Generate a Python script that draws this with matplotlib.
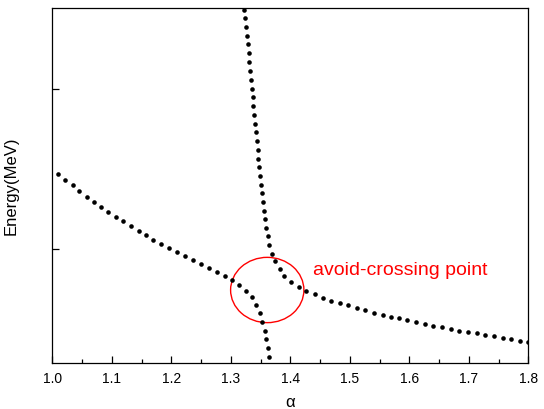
import matplotlib

matplotlib.use("Agg")
import matplotlib.pyplot as plt
from matplotlib.patches import Ellipse

plt.rcParams["font.family"] = ["Liberation Sans", "DejaVu Sans"]

# lower branch: falls gently, then drops steeply after the crossing
alpha_low = [1.010, 1.022, 1.034, 1.045, 1.058, 1.070, 1.082, 1.094, 1.107, 1.119,
             1.132, 1.145, 1.157, 1.170, 1.183, 1.197, 1.210, 1.223, 1.236, 1.250,
             1.264, 1.277, 1.290, 1.302, 1.314, 1.326, 1.336, 1.343, 1.349, 1.353,
             1.357, 1.360, 1.363, 1.365]
energy_low = [1.471, 1.432, 1.399, 1.361, 1.328, 1.295, 1.263, 1.232, 1.203, 1.174,
              1.143, 1.116, 1.087, 1.060, 1.035, 1.008, 0.983, 0.958, 0.935, 0.911,
              0.885, 0.857, 0.836, 0.809, 0.780, 0.742, 0.701, 0.655, 0.601, 0.547,
              0.493, 0.440, 0.385, 0.331]

# upper branch: steep descent, then bends to the right
alpha_up = [1.322, 1.324, 1.326, 1.327, 1.329, 1.330, 1.331, 1.333, 1.334, 1.335,
            1.337, 1.338, 1.339, 1.341, 1.342, 1.344, 1.345, 1.346, 1.347, 1.349,
            1.351, 1.352, 1.354, 1.356, 1.358, 1.360, 1.362, 1.364, 1.370, 1.375,
            1.382, 1.390, 1.401, 1.414, 1.427, 1.441, 1.455, 1.469, 1.484, 1.497,
            1.512, 1.526, 1.540, 1.555, 1.569, 1.583, 1.597, 1.612, 1.626, 1.640,
            1.655, 1.670, 1.684, 1.699, 1.713, 1.728, 1.742, 1.757, 1.771, 1.786,
            1.800]
energy_up = [2.490, 2.438, 2.386, 2.330, 2.276, 2.220, 2.166, 2.110, 2.056, 2.000,
             1.946, 1.892, 1.838, 1.782, 1.730, 1.674, 1.620, 1.564, 1.511, 1.456,
             1.402, 1.349, 1.295, 1.240, 1.187, 1.133, 1.081, 1.027, 0.971, 0.925,
             0.877, 0.832, 0.796, 0.765, 0.742, 0.720, 0.699, 0.681, 0.664, 0.651,
             0.634, 0.620, 0.605, 0.593, 0.580, 0.570, 0.558, 0.545, 0.535, 0.524,
             0.514, 0.504, 0.493, 0.485, 0.477, 0.468, 0.458, 0.450, 0.441, 0.431,
             0.425]

x_ticks = [1.0, 1.1, 1.2, 1.3, 1.4, 1.5, 1.6, 1.7, 1.8]
y_ticks = [1.0, 2.0]

fig = plt.figure(figsize=(5.44, 4.09), dpi=100)
ax = fig.add_axes([0.0961, 0.1132, 0.875, 0.8672])

ax.plot(alpha_low, energy_low, "o", color="black", ms=3.3, mew=0)
ax.plot(alpha_up, energy_up, "o", color="black", ms=3.3, mew=0)

ax.add_patch(Ellipse((1.3613, 0.7466), 0.1232, 0.4066, fill=False,
                     edgecolor="#ff0000", lw=1.0))
ax.text(1.4376, 0.840, "avoid-crossing point", color="#ff0000", fontsize=14,
        va="baseline", ha="left")

ax.set_xlim(1.0, 1.8)
ax.set_ylim(0.2939, 2.5025)
ax.set_xticks(x_ticks)
ax.set_xticklabels([f"{t:.1f}" for t in x_ticks])
ax.set_xticks([1.05, 1.15, 1.25, 1.35, 1.45, 1.55, 1.65, 1.75], minor=True)
ax.set_yticks(y_ticks)
ax.set_yticklabels([])
ax.tick_params(direction="in", length=5, width=0.9, labelsize=10, pad=6.5)
ax.tick_params(which="minor", direction="in", length=3, width=0.9)
for s in ax.spines.values():
    s.set_linewidth(0.9)

ax.set_xlabel("α", fontsize=12, labelpad=7)
ax.set_ylabel("Energy(MeV)", fontsize=12)
ax.yaxis.set_label_coords(-0.07, 0.5)

fig.savefig("out.png")
